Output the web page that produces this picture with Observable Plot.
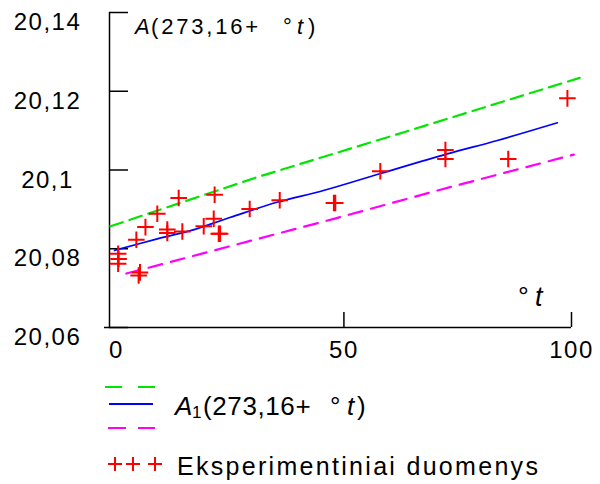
<!DOCTYPE html>
<html><head><meta charset="utf-8">
<script src="https://cdn.jsdelivr.net/npm/d3@7"></script>
<script src="https://cdn.jsdelivr.net/npm/@observablehq/plot@0.6"></script>
<style>
body{margin:0;background:#fff;font-family:"Liberation Sans",Arial,sans-serif;}
#chart svg{display:block;}
</style></head><body><div id="chart"></div>
<script>
// experimental data (temperature °t, value)
const expT = [0.4, 0.5, 0.4, 4.4, 5.2, 4.9, 6.4, 9.0, 11.2, 11.2, 14.5, 13.7, 19.2, 21.4, 21.6, 22.5, 22.8, 29.3, 35.9, 47.8, 48.1, 58.0, 72.3, 72.3, 86.1, 99.1];
const expA = [20.0787, 20.0774, 20.0762, 20.0823, 20.0740, 20.0732, 20.0855, 20.0889, 20.0849, 20.0840, 20.0844, 20.0929, 20.0857, 20.0876, 20.0937, 20.0838, 20.0838, 20.0901, 20.0923, 20.0916, 20.0916, 20.0997, 20.1051, 20.1028, 20.1028, 20.1182];
// fitted curve A1
const fitT = [-0.4, 9.0, 16.3, 25.1, 35.3, 45.5, 58.0, 72.7, 83.7, 96.9];
const fitA = [20.0796, 20.0825, 20.0846, 20.0880, 20.0918, 20.0948, 20.0991, 20.1041, 20.1075, 20.1120];
// upper bound (green dashed)
const upT = [-1.3, 31.0, 63.2, 101.8];
const upA = [20.0857, 20.0982, 20.1096, 20.1234];
// lower bound (magenta dashed)
const loT = [2.2, 47.8, 71.2, 100.5];
const loA = [20.0737, 20.0876, 20.0950, 20.1039];

const xDomain = [-1.5, 100];
const yDomain = [20.06, 20.14];
const xTicks = [0, 50, 100];
const yTicks = [20.06, 20.08, 20.1, 20.12, 20.14];

const rows = (T, A) => T.map((t, i) => ({t, a: A[i]}));
const FONT = '"Liberation Sans", Arial, sans-serif';

const W = 600, H = 365, ML = 109, MR = 29, MT = 12, MB = 38;
const frameW = W - ML - MR, frameH = H - MT - MB;

const plot = Plot.plot({
  width: W, height: H,
  marginLeft: ML, marginRight: MR, marginTop: MT, marginBottom: MB,
  style: {fontFamily: FONT, fontSize: "24px", background: "white", overflow: "visible", color: "black"},
  x: {domain: xDomain, label: null},
  y: {domain: yDomain, label: null},
  marks: [
    Plot.ruleX([xDomain[0]], {stroke: "black", strokeWidth: 1.5}),
    Plot.ruleY([yDomain[0]], {stroke: "black", strokeWidth: 1.5, insetLeft: -5}),
    Plot.tickY(yTicks, {y: d => d, insetRight: frameW - 19, stroke: "black", strokeWidth: 1.5}),
    Plot.tickX(xTicks.slice(1), {x: d => d, insetTop: frameH - 15, stroke: "black", strokeWidth: 1.5}),
    Plot.axisY({ticks: yTicks, tickSize: 0, tickPadding: 62, textAnchor: "middle", dy: 10, label: null,
      tickFormat: d => String(d).replace(".", ","), fontSize: 24}),
    Plot.axisX({ticks: xTicks, tickSize: 0, tickPadding: 13, label: null, fontSize: 24, tickFormat: d => String(d)}),
    Plot.line(rows(upT, upA), {x: "t", y: "a", stroke: "#00e600", strokeWidth: 2.2, strokeDasharray: "13,7"}),
    Plot.line(rows(loT, loA), {x: "t", y: "a", stroke: "#ff00ff", strokeWidth: 2.2, strokeDasharray: "14,9"}),
    Plot.line(rows(fitT, fitA), {x: "t", y: "a", stroke: "#0000ff", strokeWidth: 1.7, curve: "catmull-rom"}),
    Plot.dot(rows(expT, expA), {x: "t", y: "a", symbol: "plus", r: 5.4, stroke: "#ff0000", strokeWidth: 2})
  ]
});

document.getElementById("chart").appendChild(plot);
const svg = d3.select(plot);
svg.selectAll("g[aria-label='y-axis tick label'] text, g[aria-label='x-axis tick label'] text")
  .attr("letter-spacing", "1.5px");

// y-axis expression label at top-left
const t1 = svg.append("text").attr("font-family", FONT).attr("font-size", 22).attr("fill", "black")
  .attr("text-anchor", "start").attr("y", 34);
t1.append("tspan").attr("x", 135).attr("font-style", "italic").text("A");
t1.append("tspan").attr("x", 151).attr("letter-spacing", "2.8px").text("(273,16+");
t1.append("tspan").attr("x", 283).text("°");
t1.append("tspan").attr("x", 297).attr("font-style", "italic").text("t");
t1.append("tspan").attr("x", 308).text(")");

// x-axis expression label
const t2 = svg.append("text").attr("font-family", FONT).attr("font-size", 27).attr("fill", "black")
  .attr("text-anchor", "start").attr("y", 306);
t2.append("tspan").attr("x", 518).text("°");
t2.append("tspan").attr("x", 535).attr("font-style", "italic").text("t");

// legend below the plot
const LH = 484 - H;
const leg = d3.select("#chart").append("svg").attr("width", W).attr("height", LH)
  .style("display", "block").style("font-family", FONT).attr("text-anchor", "start");
const oy = -H;
leg.append("line").attr("x1", 105).attr("x2", 155).attr("y1", 387 + oy).attr("y2", 387 + oy)
  .attr("stroke", "#00e600").attr("stroke-width", 2).attr("stroke-dasharray", "17,16");
leg.append("line").attr("x1", 109).attr("x2", 153).attr("y1", 404 + oy).attr("y2", 404 + oy)
  .attr("stroke", "#0000ff").attr("stroke-width", 1.8);
leg.append("line").attr("x1", 108).attr("x2", 155).attr("y1", 428 + oy).attr("y2", 428 + oy)
  .attr("stroke", "#ff00ff").attr("stroke-width", 2).attr("stroke-dasharray", "18,12");
[115, 133, 155].forEach(cx => {
  leg.append("path").attr("d", `M${cx - 7},${464 + oy}h14M${cx},${457 + oy}v14`)
    .attr("stroke", "#ff0000").attr("stroke-width", 2).attr("fill", "none");
});
const l1 = leg.append("text").attr("font-size", 26).attr("fill", "black").attr("y", 415 + oy);
l1.append("tspan").attr("x", 175).attr("font-style", "italic").text("A");
l1.append("tspan").attr("x", 192).attr("font-size", 17).attr("dy", 3).text("1");
l1.append("tspan").attr("x", 203).attr("dy", -3).attr("letter-spacing", "0.6px").text("(273,16+");
l1.append("tspan").attr("x", 330).text("°");
l1.append("tspan").attr("x", 347).attr("font-style", "italic").text("t");
l1.append("tspan").attr("x", 357).text(")");
leg.append("text").attr("font-size", 25).attr("fill", "black").attr("x", 177).attr("y", 475 + oy)
  .attr("letter-spacing", "2.3px").text("Eksperimentiniai duomenys");
</script>
</body></html>
